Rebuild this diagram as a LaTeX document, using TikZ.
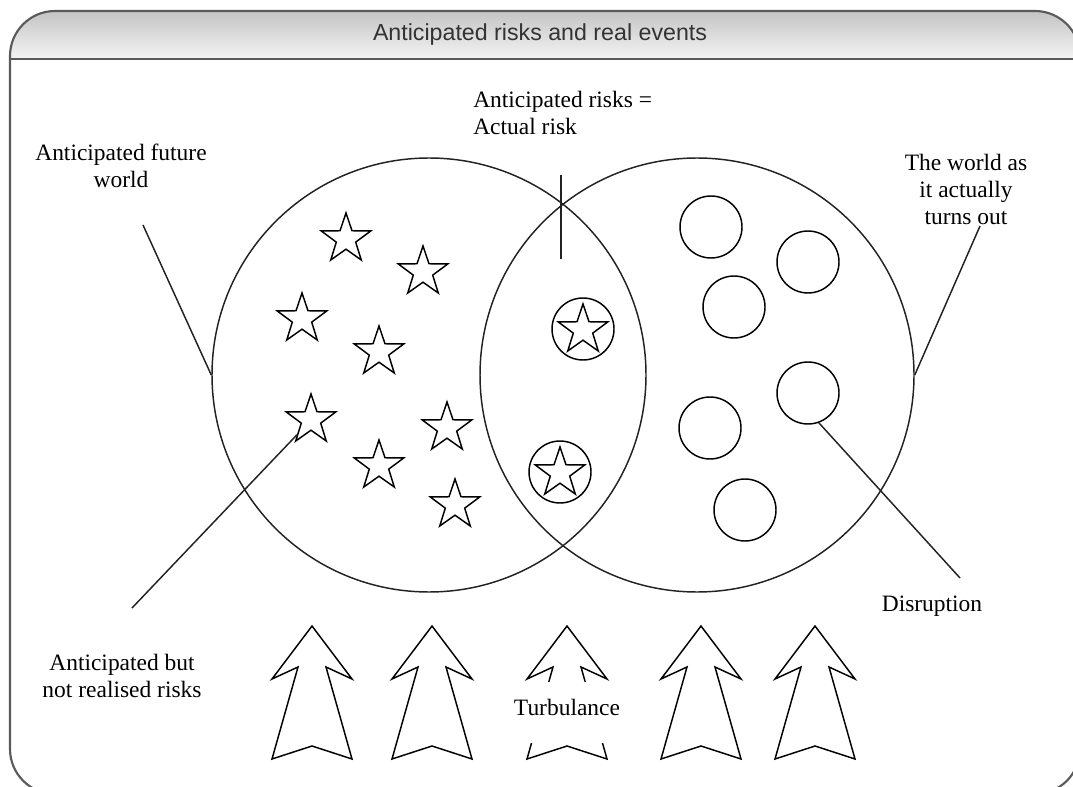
\documentclass[tikz,border=0pt]{standalone}
\usepackage{fontspec}
\setmainfont{Liberation Serif}
\newfontfamily\headfont{Liberation Sans}
\usetikzlibrary{shapes.geometric}

\definecolor{framegray}{HTML}{5A5A5A}
\definecolor{barTop}{HTML}{C4C4C4}
\definecolor{barBottom}{HTML}{F4F4F4}
\definecolor{ink}{HTML}{222222}

\tikzset{
  lbl/.style={font=\fontsize{17.6}{20.25}\selectfont, align=center, inner sep=0pt, text=black},
  ring/.style={circle, draw=ink, line width=1.1pt, inner sep=0pt, minimum size=325.5pt},
  starnode/.style={star, star points=5, star point ratio=2.55, draw=black, line width=1.1pt,
                   inner sep=0pt, minimum size=39pt},
  dot/.style={circle, draw=black, line width=1.1pt, inner sep=0pt, minimum size=46.5pt},
  leader/.style={draw=ink, line width=1.1pt},
  uparrow/.pic={
    \draw[black, line width=1.1pt, line join=miter]
      (0,0) -- (40,53) -- (14,41) -- (40,133) -- (0,120)
      -- (-40,133) -- (-14,41) -- (-40,53) -- cycle;
  }
}

\begin{document}
\begin{tikzpicture}[x=0.75pt, y=-0.75pt]
  \useasboundingbox (0,0) rectangle (1073,787);
  \clip (0,0) rectangle (1073,787);

  % panel with shaded title bar
  \begin{scope}
    \clip[rounded corners=33.75pt] (10,11) rectangle (1080,794);
    \shade[top color=barTop, bottom color=barBottom] (10,11) rectangle (1080,59);
  \end{scope}
  \draw[framegray, line width=1.6pt, rounded corners=33.75pt] (10,11) rectangle (1080,794);
  \draw[framegray, line width=1.6pt] (10,59) -- (1080,59);
  \node[font=\headfont\fontsize{17.4}{20}\selectfont, text=black!80] (title) at (540,35)
    {Anticipated risks and real events};

  % the two worlds
  \node[ring] (L) at (429,375) {};
  \node[ring] (R) at (697,375) {};

  % anticipated risks (stars)
  \node[starnode] (s1) at (346,239) {};
  \node[starnode] (s2) at (423,272) {};
  \node[starnode] (s3) at (302,319) {};
  \node[starnode] (s4) at (379,352) {};
  \node[starnode] (s5) at (311,420) {};
  \node[starnode] (s6) at (447,428) {};
  \node[starnode] (s7) at (379,466) {};
  \node[starnode] (s8) at (455,505) {};

  % risks that were anticipated and happened
  \node[dot] (m1) at (583,329) {};
  \node[starnode] (ms1) at (583,330) {};
  \node[dot] (m2) at (560,472) {};
  \node[starnode] (ms2) at (560,473) {};

  % real events (circles)
  \node[dot] (e1) at (711,227) {};
  \node[dot] (e2) at (808,262) {};
  \node[dot] (e3) at (734,307) {};
  \node[dot] (dz) at (808,393) {};
  \node[dot] (e5) at (710,428) {};
  \node[dot] (e6) at (745,510) {};

  % labels
  \node[lbl, anchor=west, align=left] (tAct) at (473,112.5) {Anticipated risks =\\Actual risk};
  \node[lbl] (tFut) at (121,165.5) {Anticipated future\\world};
  \node[lbl] (tReal) at (966,189) {The world as\\it actually\\turns out};
  \node[lbl] (tNot) at (122,675.5) {Anticipated but\\not realised risks};
  \node[lbl] (tDis) at (932,606.5) {Disruption};

  % leader lines
  \coordinate (v1) at (561,175);
  \coordinate (v2) at (561,259);
  \draw[leader] (v1) -- (v2);
  \coordinate (a1) at (143,225);
  \draw[leader] (a1) -- (L.west);
  \coordinate (a2) at (980,226);
  \draw[leader] (R.east) -- (a2);
  \coordinate (a3) at (132,608);
  \draw[leader] (s5) -- (a3);
  \coordinate (a4) at (960,578);
  \draw[leader] (dz.-70) -- (a4);

  % turbulence arrows
  \pic at (312,626) {uparrow};
  \pic at (432,626) {uparrow};
  \pic at (567,626) {uparrow};
  \pic at (701,626) {uparrow};
  \pic at (815,626) {uparrow};
  \node[lbl, anchor=base, fill=white, inner xsep=2pt, inner ysep=12.75pt, text depth=8.25pt]
    (tTurb) at (567,715) {Turbulance};
\end{tikzpicture}
\end{document}
